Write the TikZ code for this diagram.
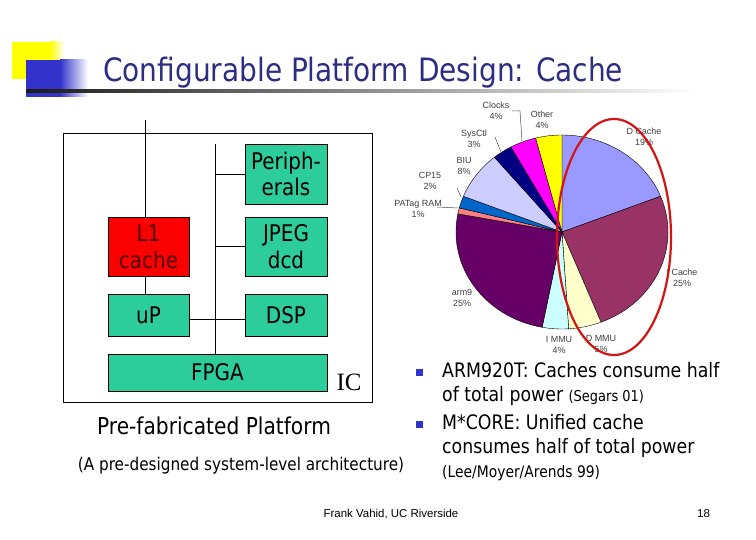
\documentclass[tikz,border=0pt]{standalone}
\usepackage{fontspec}
\setmainfont{DejaVu Sans}[FakeStretch=0.87]
\newfontfamily\arialf{Liberation Sans}
\newfontfamily\timesf{Liberation Serif}
\definecolor{titleblue}{RGB}{45,45,130}
\definecolor{bulletblue}{RGB}{51,51,204}
\definecolor{logoblue}{RGB}{51,51,204}
\definecolor{logoyellow}{RGB}{255,255,0}
\definecolor{boxgreen}{RGB}{45,205,155}
\definecolor{boxred}{RGB}{250,0,0}
\definecolor{lonetext}{RGB}{80,0,0}
\definecolor{ovalred}{RGB}{210,20,20}
\definecolor{cdcache}{HTML}{9999FF}
\definecolor{cicache}{HTML}{993366}
\definecolor{cdmmu}{HTML}{FFFFCC}
\definecolor{cimmu}{HTML}{CCFFFF}
\definecolor{carm}{HTML}{660066}
\definecolor{cpatag}{HTML}{FF8080}
\definecolor{ccp}{HTML}{0066CC}
\definecolor{cbiu}{HTML}{CCCCFF}
\definecolor{csys}{HTML}{000080}
\definecolor{cclk}{HTML}{FF00FF}
\definecolor{cother}{HTML}{FFFF00}
\tikzset{
  blockbox/.style={draw=black, line width=0.8bp, fill=boxgreen, inner sep=0pt, align=center,
    font=\fontsize{23}{27}\selectfont},
  plabel/.style={font=\arialf\fontsize{9}{11}\selectfont, text=black!75, inner sep=0pt, align=center},
  leader/.style={draw=black!70, line width=0.5bp},
  wire/.style={draw=black, line width=0.9bp},
  bultext/.style={anchor=base west, inner sep=0pt, font=\fontsize{20}{24}\selectfont},
  bulsq/.style={fill=bulletblue, minimum size=6.5bp, inner sep=0pt},
  slice/.style={draw=black, line width=0.4bp}
}
\begin{document}
\begin{tikzpicture}[x=1bp,y=-1bp]
\useasboundingbox (0,0) rectangle (756,540);
\fill[white] (0,0) rectangle (756,540);
% logo
\fill[logoyellow] (12,42) rectangle (50,79);
\shade[left color=logoyellow, right color=white] (50,42) rectangle (64,79);
\fill[logoblue] (26,60) rectangle (60,97);
\shade[left color=logoblue, right color=white] (60,60) rectangle (88,97);
\shade[left color=black!90, right color=white] (26,89.5) rectangle (697,92.5);
\node[anchor=base west, inner sep=0pt, text=titleblue, font=\fontsize{32.3}{36}\selectfont] (title) at (103,82) {Configurable Platform Design: Cache};

% left diagram
\draw[line width=0.9bp] (63,133) rectangle (372,402);
\node[blockbox, minimum width=82bp, minimum height=60bp] (per) at (286,174) {Periph-\\erals};
\node[blockbox, minimum width=82bp, minimum height=59bp] (jpeg) at (286,246.5) {JPEG\\dcd};
\node[blockbox, fill=boxred, text=lonetext, minimum width=81bp, minimum height=59bp] (lone) at (148.5,246.5) {L1\\cache};
\node[blockbox, minimum width=81bp, minimum height=42bp] (up) at (148.5,315) {uP};
\node[blockbox, minimum width=82bp, minimum height=42bp] (dsp) at (286,315) {DSP};
\node[blockbox, minimum width=219bp, minimum height=37bp] (fpga) at (217.5,372.5) {FPGA};
\node[inner sep=0pt, font=\timesf\fontsize{25}{27}\selectfont] (ic) at (349,382) {IC};
\coordinate (bustop) at (215,144);
\coordinate (busbot) at (215,354);
\coordinate (extin) at (145,120);
\draw[wire] (bustop) -- (busbot);
\draw[wire] (bustop |- per.west) -- (per.west);
\draw[wire] (bustop |- jpeg.west) -- (jpeg.west);
\draw[wire] ([yshift=-4bp]up.east) -- ([yshift=-4bp]dsp.west);
\draw[wire] (extin) -- (extin |- lone.north);
\draw[wire] (extin |- lone.south) -- (extin |- up.north);
\node[anchor=base, inner sep=0pt, font=\fontsize{23.3}{25}\selectfont] (prefab) at (214,434) {Pre-fabricated Platform};
\node[anchor=base, inner sep=0pt, font=\fontsize{17.6}{20}\selectfont] (predes) at (241,470) {(A pre-designed system-level architecture)};

% pie chart
\begin{scope}[shift={(562,232)}, x=1bp, y=1bp]
\foreach \a/\b/\c in {90/21.6/cdcache, 21.6/-68.4/cicache, -68.4/-86.4/cdmmu, -86.4/-100.8/cimmu,
  -100.8/-190.8/carm, -190.8/-194.4/cpatag, -194.4/-201.6/ccp, -201.6/-230.4/cbiu,
  -230.4/-241.2/csys, -241.2/-255.6/cclk, -255.6/-270/cother}
  \filldraw[slice, fill=\c] (0,0) -- (\a:106 and 97) arc[start angle=\a, end angle=\b, x radius=106, y radius=97] -- cycle;
\end{scope}
\node[plabel] (lclk) at (496,110.5) {Clocks\\4\%};
\node[plabel] (loth) at (542,119.5) {Other\\4\%};
\node[plabel] (lsys) at (474,138.5) {SysCtl\\3\%};
\node[plabel] (lbiu) at (464,166) {BIU\\8\%};
\node[plabel] (lcp) at (430,181) {CP15\\2\%};
\node[plabel] (lpat) at (418,209) {PATag RAM\\1\%};
\node[plabel] (ldc) at (644,137) {D Cache\\19\%};
\node[plabel] (lic) at (682,277.5) {I Cache\\25\%};
\node[plabel] (larm) at (462,298) {arm9\\25\%};
\node[plabel] (limmu) at (559,345) {I MMU\\4\%};
\node[plabel] (ldmmu) at (601,344) {D MMU\\5\%};
\coordinate (c1) at (520,111);
\coordinate (c2) at (522,141);
\draw[leader] (512,111) -- (c1) -- (c2);
\coordinate (s1) at (501,152);
\draw[leader] (495,137) -- (s1);
\coordinate (p1) at (461,197);
\draw[leader] (457,188) -- (p1);
\coordinate (t1) at (458,208);
\draw[leader] (437,207) -- (t1);
\draw[ovalred, line width=2.2bp] (614,237) ellipse [x radius=57, y radius=118];

% bullets
\node[bulsq] (b1) at (419.5,372.5) {};
\node[bulsq] (b2) at (419.5,424.5) {};
\node[bultext] (t1a) at (442,377) {ARM920T: Caches consume half};
\node[bultext] (t1b) at (442,401) {of total power {\fontsize{15}{18}\selectfont(Segars 01)}};
\node[bultext] (t2a) at (442,429) {M*CORE: Unified cache};
\node[bultext] (t2b) at (442,453) {consumes half of total power};
\node[bultext, font=\fontsize{16}{18}\selectfont] (t2c) at (442,477) {(Lee/Moyer/Arends 99)};

% footer
\node[anchor=base, inner sep=0pt, font=\arialf\fontsize{11.5}{13}\selectfont] (foot) at (391,517) {Frank Vahid, UC Riverside};
\node[anchor=base, inner sep=0pt, font=\arialf\fontsize{11.5}{13}\selectfont] (pnum) at (703.5,517) {18};
\end{tikzpicture}
\end{document}
